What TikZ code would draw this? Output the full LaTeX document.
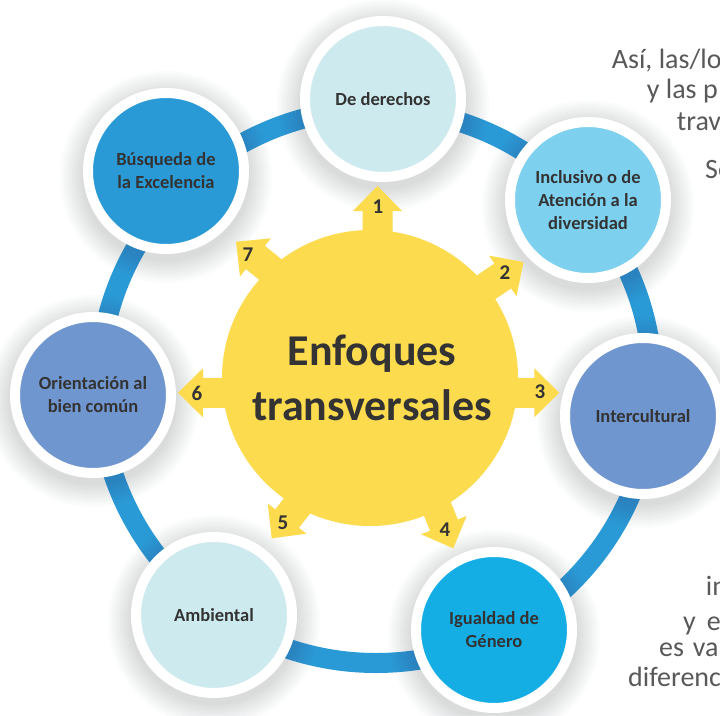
\documentclass[tikz,border=0pt]{standalone}
\usepackage{fontspec}
\setmainfont{Carlito}
\definecolor{ringc}{HTML}{2A9AD6}
\definecolor{cLight}{HTML}{CDEAEE}
\definecolor{cSky}{HTML}{7DD0EE}
\definecolor{cSlate}{HTML}{7096CF}
\definecolor{cBright}{HTML}{14AEE5}
\definecolor{cMid}{HTML}{2A9AD6}
\definecolor{cYellow}{HTML}{FCDB4F}
\definecolor{txt}{HTML}{333333}
\definecolor{gtxt}{HTML}{595959}
\definecolor{shad}{HTML}{3C465A}
\newcommand\halo[2]{\foreach \r in {84,86,...,106}{\fill[shad,opacity=0.015] (#1,#2+6) circle (\r pt);}}
\newcommand\yarrow[3]{\begin{scope}[shift={(#1,#2)}, rotate=#3]
  \fill[cYellow] (0,0) -- (-25,24.5) -- (-25,15) -- (-80,15) -- (-80,-15) -- (-25,-15) -- (-25,-24.5) -- cycle;
\end{scope}}
\begin{document}
\begin{tikzpicture}[x=1pt,y=-1pt,
  enf/.style={circle, minimum size=156pt, inner sep=0pt, draw=white, line width=10pt,
    font=\fontsize{18.5}{23}\selectfont\bfseries, text=txt, align=center},
  num/.style={font=\fontsize{21}{21}\selectfont\bfseries, text=txt, inner sep=0pt},
  title/.style={font=\fontsize{44}{44}\selectfont\bfseries, text=txt, inner sep=0pt, anchor=base},
  side/.style={font=\fontsize{28}{30}\selectfont, text=gtxt, anchor=base west, inner sep=0pt}]
\useasboundingbox (0,0) rectangle (720,715);
\clip (0,0) rectangle (720,715);
\fill[white] (0,0) rectangle (720,715);

% ring
\draw[ringc, line width=20pt] (376,386) circle (277pt);

% shadows
\halo{383}{99}
\halo{588}{200}
\halo{643}{416}
\halo{494}{630}
\halo{214}{615}
\halo{93}{395}
\halo{166}{171}

% arrows
\yarrow{377.5}{186}{90}
\yarrow{523.5}{262}{34}
\yarrow{559.3}{392.8}{0}
\yarrow{453.3}{548.3}{-68}
\yarrow{271.7}{538.3}{-128}
\yarrow{178}{392.8}{180}
\yarrow{236}{241.7}{141}

% centre
\node[circle, fill=cYellow, minimum size=296pt, inner sep=0pt] (core) at (370,378) {};
\node[title] (t1) at (372,365) {Enfoques};
\node[title] (t2) at (372,420) {transversales};

% outer circles
\node[enf, fill=cLight]  (derechos) at (383,99) {De derechos};
\node[enf, fill=cSky]    (inclusivo) at (588,200) {Inclusivo o de\\Atención a la\\diversidad};
\node[enf, fill=cSlate]  (intercultural) at (643,416) {Intercultural};
\node[enf, fill=cBright] (igualdad) at (494,630) {Igualdad de\\Género};
\node[enf, fill=cLight]  (ambiental) at (214,615) {Ambiental};
\node[enf, fill=cSlate]  (orientacion) at (93,395) {Orientación al\\bien común};
\node[enf, fill=cMid]    (busqueda) at (166,171) {Búsqueda de\\la Excelencia};

% numbers
\node[num] (n1) at (378,207) {1};
\node[num] (n2) at (505,273) {2};
\node[num] (n3) at (540,392) {3};
\node[num] (n4) at (445,530) {4};
\node[num] (n5) at (283,523) {5};
\node[num] (n6) at (197,393) {6};
\node[num] (n7) at (248,255) {7};

% side text
\node[side] (s1) at (611.7,68) {Así, las/lo};
\node[side] (s2) at (646.7,98) {y las p};
\node[side] (s3) at (676.7,130) {trav};
\node[side] (s4) at (705,178) {Se};
\node[side] (s5) at (705.7,595) {in};
\node[side] (s6a) at (683,630.7) {y};
\node[side] (s6b) at (706.7,630.7) {e};
\node[side] (s7a) at (659,656.7) {es};
\node[side] (s7b) at (692.7,656.7) {va};
\node[side] (s8) at (628,686.7) {diferenc};
\end{tikzpicture}
\end{document}
